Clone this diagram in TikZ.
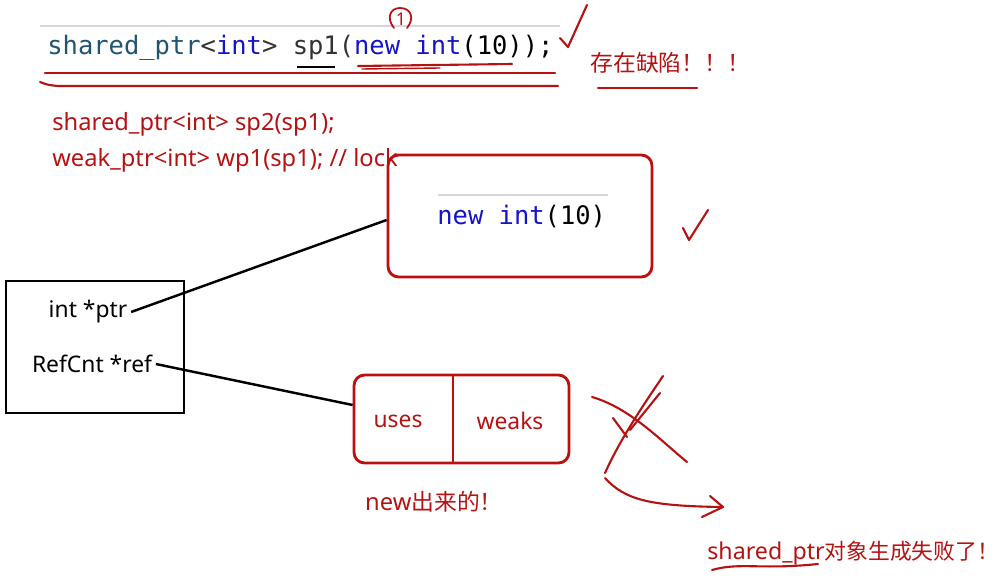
\documentclass[tikz,border=0pt]{standalone}
\usepackage{fontspec}
\setmainfont{Noto Sans}
\newfontfamily\cjk{Noto Sans CJK SC}
\setmonofont{DejaVu Sans Mono}
\usetikzlibrary{positioning}
\definecolor{inkred}{HTML}{B51212}
\definecolor{boxred}{HTML}{BE0F0F}
\definecolor{kwblue}{HTML}{1414C8}
\definecolor{typeteal}{HTML}{1F5570}
\definecolor{rulegray}{HTML}{D6D6DA}
\newcommand{\cjktext}[2][13]{{\cjk\fontsize{#1}{15}\selectfont #2}}
\tikzset{code/.style = {font=\ttfamily\fontsize{14.5}{16}\selectfont,
                        inner sep=0pt, anchor=base west},
         note/.style = {text=inkred, font=\fontsize{13.5}{15}\selectfont,
                        inner sep=0pt, anchor=base west},
         fieldtext/.style = {font=\fontsize{13}{15}\selectfont, inner sep=2pt},
         ink/.style = {draw=inkred, line width=1.2pt, line cap=round,
                       line join=round},
         redbox/.style = {draw=boxred, line width=1.6pt, rounded corners=6pt}}

\begin{document}
\begin{tikzpicture}[x=0.02cm, y=-0.02cm]
    \useasboundingbox (0, 0) rectangle (998, 581);
    % code line on top
    \draw [rulegray, line width=1pt] (40, 26) -- (560, 26);
    \node [code] (spline) at (47, 55) {\color{typeteal}shared\_ptr\color{black!80}<\color{kwblue}int\color{black!80}> sp1(\color{kwblue}new int\color{black}(10));};
    \draw [line width=1.5pt] (297, 67) -- (335, 67);
    \node [inkred, inner sep=0pt, font=\fontsize{10}{10}\selectfont] (one) at (401, 19) {1};
    \draw [ink, line width=1pt] (394, 28) .. controls (386, 18) and (390, 8) .. (400, 8)
                                          .. controls (411, 8) and (415, 18) .. (407, 28);
    \draw [ink] (358, 66) -- (512, 64);
    \draw [ink, line width=0.8pt] (362, 69) -- (440, 68);
    \draw [ink] (45, 73) -- (555, 73);
    \draw [ink] (40, 82) .. controls (48, 85) .. (58, 86) -- (558, 86);
    \draw [ink] (560, 38) -- (568, 47) -- (587, 5);
    \node [note] (flaw) at (590, 72) {\cjktext{存在缺陷！！！}};
    \draw [ink] (598, 88) -- (697, 88);
    % red notes
    \node [note] (sp2line) at (52, 131) {shared\_ptr<int> sp2(sp1);};
    \node [note] (wp1line) at (52, 167) {weak\_ptr<int> wp1(sp1); // lock};
    % heap object
    \node [redbox, minimum width=5.28cm, minimum height=2.44cm] (heapbox) at (520, 216) {};
    \draw [rulegray, line width=1pt] (438, 195) -- (608, 195);
    \node [code] (newint) at (437, 224) {\color{kwblue}new int\color{black}(10)};
    \draw [ink] (683, 228) -- (689, 240) -- (708, 210);
    % ref count
    \node [redbox, minimum width=4.3cm, minimum height=1.76cm] (cntbox) at (461.5, 419) {};
    \draw [boxred, line width=1.6pt] (453, 375) -- (453, 463);
    \node [fieldtext, text=inkred] (uses) at (398, 421) {uses};
    \node [fieldtext, text=inkred] (weaks) at (510, 421) {weaks};
    \node [note, anchor=base] (fromnew) at (434, 510) {new\cjktext{出来的！}};
    % shared_ptr object
    \node [draw, line width=1.6pt, minimum width=3.56cm, minimum height=2.64cm] (ctrl) at (95, 347) {};
    \node [fieldtext] (ptrfield) at (88, 312) {int *ptr};
    \node [fieldtext] (reffield) at (92, 364) {RefCnt *ref};
    \draw [line width=1.4pt] (ptrfield.east) -- ([yshift=-0.08cm]heapbox.west);
    \draw [line width=1.4pt] (reffield.east) -- ([yshift=0.28cm]cntbox.west);
    % crossed out
    \draw [ink] (592, 397) .. controls (630, 408) and (660, 440) .. (687, 462);
    \draw [ink] (663, 376) .. controls (640, 410) and (620, 440) .. (605, 473);
    \draw [ink] (660, 393) -- (630, 430);
    \draw [ink] (613, 418) -- (627, 437);
    \draw [ink] (605, 478) .. controls (625, 500) and (650, 506) .. (722, 507);
    \draw [ink] (710, 496) -- (723, 507) -- (702, 517);
    \node [note, font=\fontsize{13.2}{15}\selectfont] (failed) at (707, 559) {shared\_ptr\cjktext[12.4]{对象生成失败了！}};
    \draw [ink] (712, 570) .. controls (740, 562) and (760, 570) .. (818, 564);
\end{tikzpicture}
\end{document}
